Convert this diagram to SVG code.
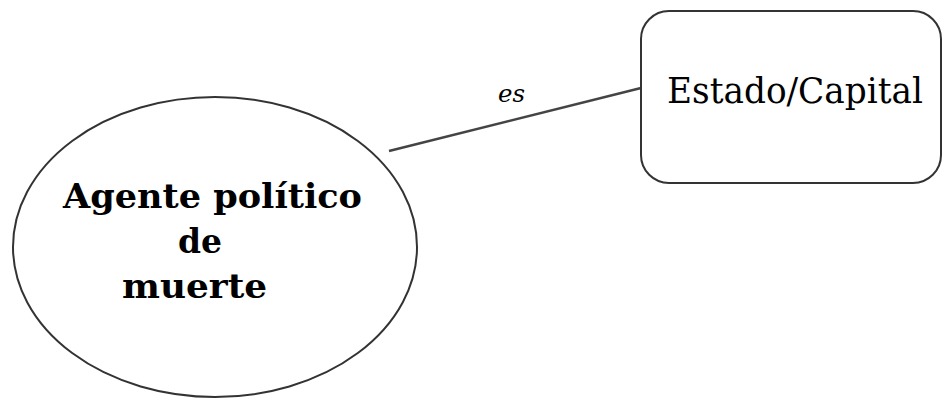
<svg xmlns="http://www.w3.org/2000/svg" width="943" height="401" viewBox="0 0 943 401">
<style>
.shape{fill:#fff;stroke:#333;stroke-width:2}
.conn{stroke:#444;stroke-width:2.5;fill:none}
.bold{font-family:"DejaVu Serif","Liberation Serif",serif;font-weight:bold;font-size:33px;fill:#000}
.reg{font-family:"DejaVu Serif","Liberation Serif",serif;font-size:35px;fill:#000}
.lbl{font-family:"DejaVu Serif","Liberation Serif",serif;font-style:italic;font-size:25px;fill:#000}
</style>
<rect width="943" height="401" fill="#fff"/>
<g id="connectors">
<line class="conn" x1="389" y1="151" x2="641" y2="88"/>
<text class="lbl" x="498" y="102" textLength="27" lengthAdjust="spacingAndGlyphs">es</text>
</g>
<g id="agente">
<ellipse class="shape" cx="215" cy="247" rx="202" ry="150"/>
<text class="bold" x="63" y="208" textLength="299" lengthAdjust="spacingAndGlyphs">Agente político</text>
<text class="bold" x="178" y="253" textLength="44" lengthAdjust="spacingAndGlyphs">de</text>
<text class="bold" x="122" y="298" textLength="145" lengthAdjust="spacingAndGlyphs">muerte</text>
</g>
<g id="estado">
<rect class="shape" x="641" y="11" width="300" height="172" rx="28"/>
<text class="reg" x="667" y="103" textLength="256" lengthAdjust="spacingAndGlyphs">Estado/Capital</text>
</g>
</svg>
